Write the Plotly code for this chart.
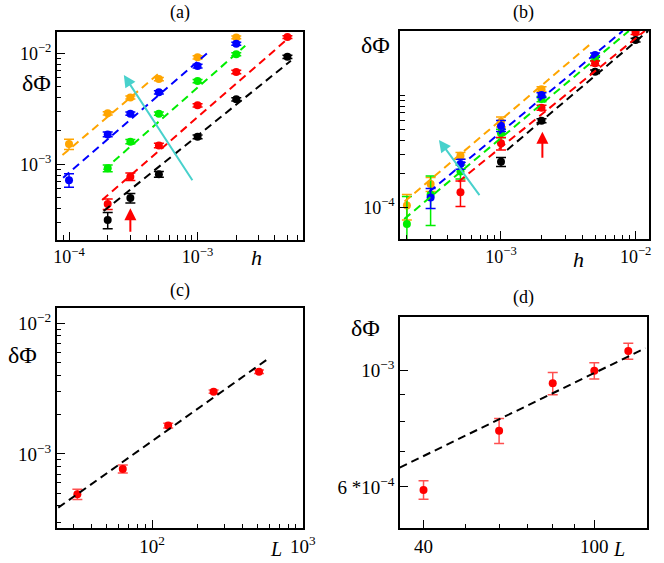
import math
import plotly.graph_objects as go

W, H = 664, 563
FONT = "Liberation Serif"

# ---------------- panel (a) data ----------------
a_orange_x = [1e-4, 2e-4, 3e-4, 5e-4, 1e-3, 2e-3]
a_orange_y = [1.52e-3, 2.88e-3, 4.0e-3, 5.87e-3, 9.2e-3, 1.39e-2]
a_orange_e = [1.6e-4, 1.0e-4, 1.2e-4, 2.0e-4, 3.0e-4, 4.0e-4]
a_blue_x = [1e-4, 2e-4, 3e-4, 5e-4, 1e-3, 2e-3]
a_blue_y = [7.2e-4, 1.86e-3, 2.86e-3, 4.45e-3, 7.69e-3, 1.22e-2]
a_blue_e = [1.0e-4, 9e-5, 1.0e-4, 1.5e-4, 3.0e-4, 4.0e-4]
a_green_x = [2e-4, 3e-4, 5e-4, 1e-3, 2e-3]
a_green_y = [9.2e-4, 1.6e-3, 2.86e-3, 5.62e-3, 9.8e-3]
a_green_e = [6.5e-5, 7e-5, 1.0e-4, 2.0e-4, 3.0e-4]
a_red_x = [2e-4, 3e-4, 5e-4, 1e-3, 2e-3, 5e-3]
a_red_y = [4.39e-4, 7.74e-4, 1.48e-3, 3.4e-3, 6.79e-3, 1.4e-2]
a_red_e = [4.8e-5, 6e-5, 7e-5, 1.2e-4, 2.5e-4, 4.0e-4]
a_black_x = [2e-4, 3e-4, 5e-4, 1e-3, 2e-3, 5e-3]
a_black_y = [3.15e-4, 4.97e-4, 8.13e-4, 1.77e-3, 3.85e-3, 9.3e-3]
a_black_e = [5.2e-5, 5e-5, 5e-5, 7e-5, 1.3e-4, 3.0e-4]
# fitted lines (end points)
a_fit_orange = ([8.89e-5, 5.18e-4], [1.21e-3, 6.82e-3])
a_fit_blue = ([9.0e-5, 1.22e-3], [7.57e-4, 1.03e-2])
a_fit_green = ([1.86e-4, 2.35e-3], [8.88e-4, 1.17e-2])
a_fit_red = ([1.81e-4, 5.32e-3], [4.76e-4, 1.43e-2])
a_fit_black = ([1.86e-4, 5.32e-3], [3.79e-4, 8.57e-3])
a_cyan_arrow = ((9.27e-4, 6.97e-4), (2.67e-4, 6.38e-3))   # tail, head
a_red_arrow = ((3.0e-4, 2.39e-4), (3.0e-4, 4.02e-4))

# ---------------- panel (b) data ----------------
b_orange_x = [2e-4, 3e-4, 5e-4, 1e-3, 2e-3]
b_orange_y = [1.04e-4, 1.62e-4, 2.9e-4, 5.83e-4, 1.14e-3]
b_orange_e = [2.65e-5, 2.3e-5, 2.0e-5, 6.0e-5, 5.5e-5]
b_blue_x = [3e-4, 5e-4, 1e-3, 2e-3, 5e-3]
b_blue_y = [1.23e-4, 2.44e-4, 5.37e-4, 1.01e-3, 2.3e-3]
b_blue_e = [2.5e-5, 2.5e-5, 6.0e-5, 5.0e-5, 1.0e-4]
b_green_x = [2e-4, 3e-4, 5e-4, 1e-3, 2e-3, 5e-3]
b_green_y = [7.13e-5, 1.3e-4, 2.1e-4, 4.6e-4, 9.3e-4, 2.15e-3]
b_green_e = [5.4e-5, 6.1e-5, 3.0e-5, 4.0e-5, 5.0e-5, 1.0e-4]
b_red_x = [5e-4, 1e-3, 2e-3, 5e-3, 1e-2]
b_red_y = [1.37e-4, 3.74e-4, 7.78e-4, 1.94e-3, 3.66e-3]
b_red_e = [3.5e-5, 4.8e-5, 4.0e-5, 9.0e-5, 1.5e-4]
b_black_x = [1e-3, 2e-3, 5e-3, 1e-2]
b_black_y = [2.56e-4, 5.96e-4, 1.63e-3, 3.13e-3]
b_black_e = [2.4e-5, 2.5e-5, 6.0e-5, 1.2e-4]
b_fit_orange = ([1.92e-4, 4.68e-3], [1.13e-4, 2.92e-3])
b_fit_blue = ([2.93e-4, 8.02e-3], [1.38e-4, 3.77e-3])
b_fit_green = ([1.91e-4, 8.91e-3], [7.89e-5, 3.77e-3])
b_fit_red = ([4.83e-4, 1.17e-2], [1.70e-4, 3.77e-3])
b_fit_black = ([1.11e-3, 1.24e-2], [3.26e-4, 3.77e-3])
b_cyan_arrow = ((7.05e-4, 1.25e-4), (3.46e-4, 4.01e-4))
b_red_arrow = ((2.03e-3, 2.69e-4), (2.03e-3, 4.75e-4))

# ---------------- panel (c) data ----------------
c_L = [32, 64, 128, 256, 512]
c_y = [4.92e-4, 7.68e-4, 1.65e-3, 3.0e-3, 4.26e-3]
c_e = [4.4e-5, 5.4e-5, 7e-5, 9e-5, 1.3e-4]
c_fit = ([23.9, 603], [3.88e-4, 5.46e-3])

# ---------------- panel (d) data ----------------
d_L = [40, 60, 80, 100, 120]
d_y = [5.92e-4, 7.68e-4, 9.46e-4, 1.0e-3, 1.09e-3]
d_e = [2.4e-5, 4.2e-5, 4.6e-5, 3.6e-5, 3.8e-5]
d_fit = ([35.2, 131.5], [6.53e-4, 1.104e-3])

ORANGE, BLUE, GREEN, RED, BLACK = "#ffa500", "#0000ff", "#00ee00", "#ff0000", "#000000"
CYAN = "#48d1cc"
ERR_RED = "#ff5050"

fig = go.Figure()


def pts(x, y, e, color, ax, ecolor=None):
    fig.add_trace(go.Scatter(
        x=x, y=y, mode="markers", xaxis=ax[0], yaxis=ax[1],
        marker=dict(color=color, size=8, line=dict(width=0)),
        error_y=dict(type="data", array=e, color=ecolor or color, thickness=1.5, width=5),
        showlegend=False, hoverinfo="skip"))


def fit(line, color, ax):
    fig.add_trace(go.Scatter(
        x=line[0], y=line[1], mode="lines", xaxis=ax[0], yaxis=ax[1],
        line=dict(color=color, width=2, dash="8px,5px"),
        showlegend=False, hoverinfo="skip"))


A, B, C, D = ("x", "y"), ("x2", "y2"), ("x3", "y3"), ("x4", "y4")

pts(a_orange_x, a_orange_y, a_orange_e, ORANGE, A)
pts(a_blue_x, a_blue_y, a_blue_e, BLUE, A)
pts(a_green_x, a_green_y, a_green_e, GREEN, A)
pts(a_red_x, a_red_y, a_red_e, RED, A)
pts(a_black_x, a_black_y, a_black_e, BLACK, A)
for ln, col in [(a_fit_orange, ORANGE), (a_fit_blue, BLUE), (a_fit_green, GREEN),
                (a_fit_red, RED), (a_fit_black, BLACK)]:
    fit(ln, col, A)

pts(b_orange_x, b_orange_y, b_orange_e, ORANGE, B)
pts(b_green_x, b_green_y, b_green_e, GREEN, B)
pts(b_blue_x, b_blue_y, b_blue_e, BLUE, B)
pts(b_red_x, b_red_y, b_red_e, RED, B)
pts(b_black_x, b_black_y, b_black_e, BLACK, B)
for ln, col in [(b_fit_orange, ORANGE), (b_fit_blue, BLUE), (b_fit_green, GREEN),
                (b_fit_red, RED), (b_fit_black, BLACK)]:
    fit(ln, col, B)

pts(c_L, c_y, c_e, RED, C, ERR_RED)
fit(c_fit, BLACK, C)
pts(d_L, d_y, d_e, RED, D, ERR_RED)
fit(d_fit, BLACK, D)

# empty traces so that the overlay axes (longer major ticks) exist
for i in range(5, 9):
    fig.add_trace(go.Scatter(x=[], y=[], xaxis="x%d" % i, yaxis="y%d" % i,
                             showlegend=False, hoverinfo="skip"))


def decades(lo, hi, mults=range(2, 10)):
    return [m * 10.0 ** e for e in range(lo, hi + 1) for m in mults]


def sup(e):
    s = str(e).replace("-", "\u2212")
    return "10<sup>%s</sup>" % s


def axis(domain, rng, major_vals, major_text, minor_vals, anchor, fsize):
    # every tick (major and minor) on the main axis; only majors get labels
    vals = list(major_vals) + list(minor_vals)
    text = list(major_text) + [""] * len(minor_vals)
    return dict(
        type="log", domain=domain, range=rng, showgrid=False, zeroline=False,
        showline=True, linecolor="black", linewidth=1.5, mirror=True,
        ticks="inside", ticklen=5, tickwidth=1.2, tickcolor="black",
        tickmode="array", tickvals=vals, ticktext=text, anchor=anchor,
        tickfont=dict(family=FONT, size=fsize, color="black"),
    )


def major_axis(base, rng, tickvals, anchor, side):
    return dict(
        type="log", overlaying=base, range=rng, showgrid=False, zeroline=False,
        showline=False, ticks="inside", ticklen=8, tickwidth=1.2, tickcolor="black",
        tickmode="array", tickvals=tickvals, showticklabels=False, anchor=anchor, side=side,
    )


def dx(p0, p1):
    return [p0 / W, p1 / W]


def dy(top, bottom):
    return [1 - bottom / H, 1 - top / H]


ra_x, ra_y = [-4.096, -2.183], [-3.682, -1.808]
rb_x, rb_y = [-3.751, -1.90], [-4.284, -2.424]
rc_x, rc_y = [1.368, 3.0], [-3.569, -1.885]
rd_x, rd_y = [1.547, 2.123], [-3.301, -2.898]

a_xmaj, a_ymaj = [1e-4, 1e-3], [1e-3, 1e-2]
b_xmaj, b_ymaj = [1e-3, 1e-2], [1e-4]
c_xmaj, c_ymaj = [100, 1000], [1e-3, 1e-2]
d_xmaj, d_ymaj = [40, 100], [6e-4, 1e-3]

layout = dict(
    width=W, height=H, margin=dict(l=0, r=0, t=0, b=0),
    font=dict(family=FONT, size=18, color="black"),
    paper_bgcolor="white", plot_bgcolor="white", showlegend=False,
    xaxis=axis(dx(55, 307), ra_x, a_xmaj, [sup(-4), sup(-3)], decades(-5, -3), "y", 18),
    yaxis=axis(dy(32, 240), ra_y, a_ymaj, [sup(-3), sup(-2)], decades(-4, -2), "x", 18),
    xaxis2=axis(dx(406.7, 662), rb_x, b_xmaj, [sup(-3), sup(-2)], decades(-4, -3), "y2", 18),
    yaxis2=axis(dy(31, 239.3), rb_y, b_ymaj, [sup(-4)], decades(-4, -4) + [1e-3], "x2", 18),
    xaxis3=axis(dx(55, 307.3), rc_x, c_xmaj, [sup(2), sup(3)], decades(1, 2), "y3", 19),
    yaxis3=axis(dy(308.3, 528.3), rc_y, c_ymaj, [sup(-3), sup(-2)], decades(-4, -3), "x3", 19),
    xaxis4=axis(dx(406.7, 660), rd_x, d_xmaj, ["40", "100"], [50, 60, 70, 80, 90], "y4", 19),
    yaxis4=axis(dy(317.3, 528.3), rd_y, d_ymaj, ["6 *10<sup>\u22124</sup>", sup(-3)],
                [7e-4, 8e-4, 9e-4], "x4", 19),
    # longer major ticks
    xaxis5=major_axis("x", ra_x, a_xmaj, "y", "bottom"),
    yaxis5=major_axis("y", ra_y, a_ymaj, "x", "left"),
    xaxis6=major_axis("x2", rb_x, b_xmaj, "y2", "bottom"),
    yaxis6=major_axis("y2", rb_y, b_ymaj, "x2", "left"),
    xaxis7=major_axis("x3", rc_x, c_xmaj, "y3", "bottom"),
    yaxis7=major_axis("y3", rc_y, c_ymaj, "x3", "left"),
    xaxis8=major_axis("x4", rd_x, d_xmaj, "y4", "bottom"),
    yaxis8=major_axis("y4", rd_y, d_ymaj, "x4", "left"),
)
fig.update_layout(**layout)

anns = []


def label(text, x, y, size, italic=False):
    anns.append(dict(
        text=("<i>%s</i>" % text) if italic else text,
        x=x / W, y=1 - y / H, xref="paper", yref="paper",
        xanchor="center", yanchor="middle", showarrow=False,
        font=dict(family=FONT, size=size, color="black")))


for t, x, y in [("(a)", 181, 12), ("(b)", 533, 12), ("(c)", 181.5, 290), ("(d)", 533.5, 297)]:
    label(t, x, y, 18)
for x, y in [(34.5, 83), (381.7, 45.5), (20, 355), (371, 327.5)]:
    label("δΦ", x, y, 24)
label("h", 260, 258, 22, True)
label("h", 590, 259, 22, True)
label("L", 280, 549, 20, True)
label("L", 631, 549, 20, True)


def arrow(tail, head, color, ax):
    anns.append(dict(
        x=math.log10(head[0]), y=math.log10(head[1]),
        ax=math.log10(tail[0]), ay=math.log10(tail[1]),
        xref=ax[0], yref=ax[1], axref=ax[0], ayref=ax[1],
        text="", showarrow=True, arrowhead=2, arrowsize=1.2, arrowwidth=2,
        arrowcolor=color, standoff=0))


arrow(*a_cyan_arrow, CYAN, A)
arrow(*a_red_arrow, RED, A)
arrow(*b_cyan_arrow, CYAN, B)
arrow(*b_red_arrow, RED, B)

fig.update_layout(annotations=anns)
fig.write_html("out.html", config={"displayModeBar": False},
               post_script="document.body.style.margin='0';document.body.style.overflow='hidden';")
